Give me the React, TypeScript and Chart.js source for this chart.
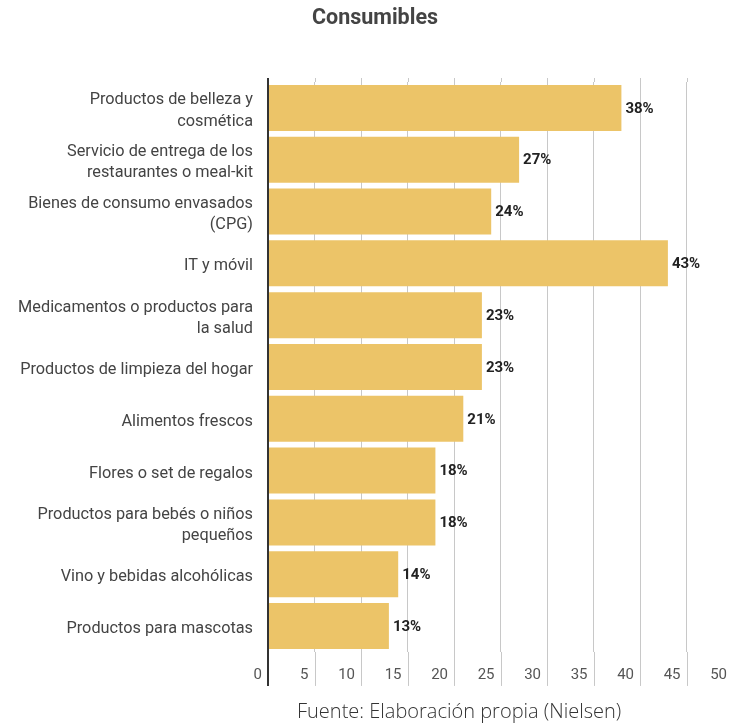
import React, { useEffect, useRef } from 'react';
import { Chart, registerables } from 'chart.js';

Chart.register(...registerables);

const categories: (string | string[])[] = [
  ['Productos de belleza y', 'cosmética'],
  ['Servicio de entrega de los', 'restaurantes o meal-kit'],
  ['Bienes de consumo envasados', '(CPG)'],
  'IT y móvil',
  ['Medicamentos o productos para', 'la salud'],
  'Productos de limpieza del hogar',
  'Alimentos frescos',
  'Flores o set de regalos',
  ['Productos para bebés o niños', 'pequeños'],
  'Vino y bebidas alcohólicas',
  'Productos para mascotas',
];
const values = [38, 27, 24, 43, 23, 23, 21, 18, 18, 14, 13];
const xMin = 0;
const xMax = 50;
const xStep = 5;
const titleText = 'Consumibles';
const sourceText = 'Fuente: Elaboración propia (Nielsen)';

const BAR_COLOR = '#ECC468';
const GRID_COLOR = '#c8c8c8';
const AXIS_COLOR = '#333';

// extends the vertical grid lines a little above and below the plot area
const gridExtendPlugin = {
  id: 'gridExtend',
  beforeDatasetsDraw(chart: any) {
    const ctx = chart.ctx;
    const x = chart.scales.x;
    const area = chart.chartArea;
    ctx.save();
    x.ticks.forEach((t: any, i: number) => {
      const px = x.getPixelForValue(t.value);
      ctx.beginPath();
      ctx.strokeStyle = i === 0 ? AXIS_COLOR : GRID_COLOR;
      ctx.lineWidth = i === 0 ? 2 : 1;
      const xx = i === 0 ? px : Math.round(px) + 0.5;
      ctx.moveTo(xx, area.top - 4);
      ctx.lineTo(xx, area.top);
      ctx.moveTo(xx, area.bottom);
      ctx.lineTo(xx, area.bottom + 34);
      ctx.stroke();
    });
    ctx.restore();
  },
};

const valueLabelPlugin = {
  id: 'valueLabels',
  afterDatasetsDraw(chart: any) {
    const ctx = chart.ctx;
    const meta = chart.getDatasetMeta(0);
    ctx.save();
    ctx.font = 'bold 15px Roboto';
    ctx.fillStyle = '#222';
    ctx.textAlign = 'left';
    ctx.textBaseline = 'middle';
    meta.data.forEach((bar: any, i: number) => {
      ctx.fillText(values[i] + '%', bar.x + 4, bar.y + 1);
    });
    ctx.restore();
  },
};

export default function App() {
  const ref = useRef<HTMLCanvasElement>(null);
  useEffect(() => {
    document.body.style.margin = '0';
    const chart = new Chart(ref.current!, {
      type: 'bar',
      data: {
        labels: categories,
        datasets: [
          {
            data: values,
            backgroundColor: BAR_COLOR,
            borderWidth: 0,
            barPercentage: 0.888,
            categoryPercentage: 1,
          },
        ],
      },
      options: {
        indexAxis: 'y',
        animation: false,
        responsive: false,
        maintainAspectRatio: false,
        layout: { padding: { top: 82, bottom: 30, left: 0, right: 0 } },
        plugins: {
          legend: { display: false },
          title: { display: false },
          tooltip: { enabled: false },
        },
        scales: {
          x: {
            type: 'linear',
            min: xMin,
            max: xMax,
            border: { display: false },
            grid: {
              color: (c: any) => (c.index === 0 ? AXIS_COLOR : GRID_COLOR),
              lineWidth: (c: any) => (c.index === 0 ? 2 : 1),
              drawTicks: false,
            },
            ticks: {
              stepSize: xStep,
              align: 'end',
              labelOffset: -6,
              padding: 0,
              color: '#555',
              font: { family: 'Roboto', size: 15, lineHeight: 3.07 },
            },
          },
          y: {
            border: { display: false },
            grid: { display: false, drawTicks: false },
            afterFit: (scale: any) => {
              scale.width = 268;
            },
            ticks: {
              padding: 15,
              labelOffset: 3,
              color: '#444',
              font: { family: 'Roboto', size: 16.3, lineHeight: 1.31 },
            },
          },
        },
      },
      plugins: [gridExtendPlugin, valueLabelPlugin],
    });
    return () => chart.destroy();
  }, []);

  return (
    <div style={{ position: 'relative', width: 733, height: 728, background: '#fff', overflow: 'hidden' }}>
      <canvas ref={ref} width={733} height={728} style={{ position: 'absolute', left: 0, top: 0 }} />
      <div
        style={{
          position: 'absolute',
          left: 0,
          top: 4,
          width: 750,
          textAlign: 'center',
          fontFamily: 'Roboto',
          fontWeight: 'bold',
          fontSize: 21.5,
          color: '#444',
        }}
      >
        {titleText}
      </div>
      <div
        style={{
          position: 'absolute',
          left: 297,
          top: 697,
          fontFamily: '"Open Sans"',
          fontWeight: 300,
          fontSize: 20,
          color: '#333',
          whiteSpace: 'nowrap',
        }}
      >
        {sourceText}
      </div>
    </div>
  );
}
